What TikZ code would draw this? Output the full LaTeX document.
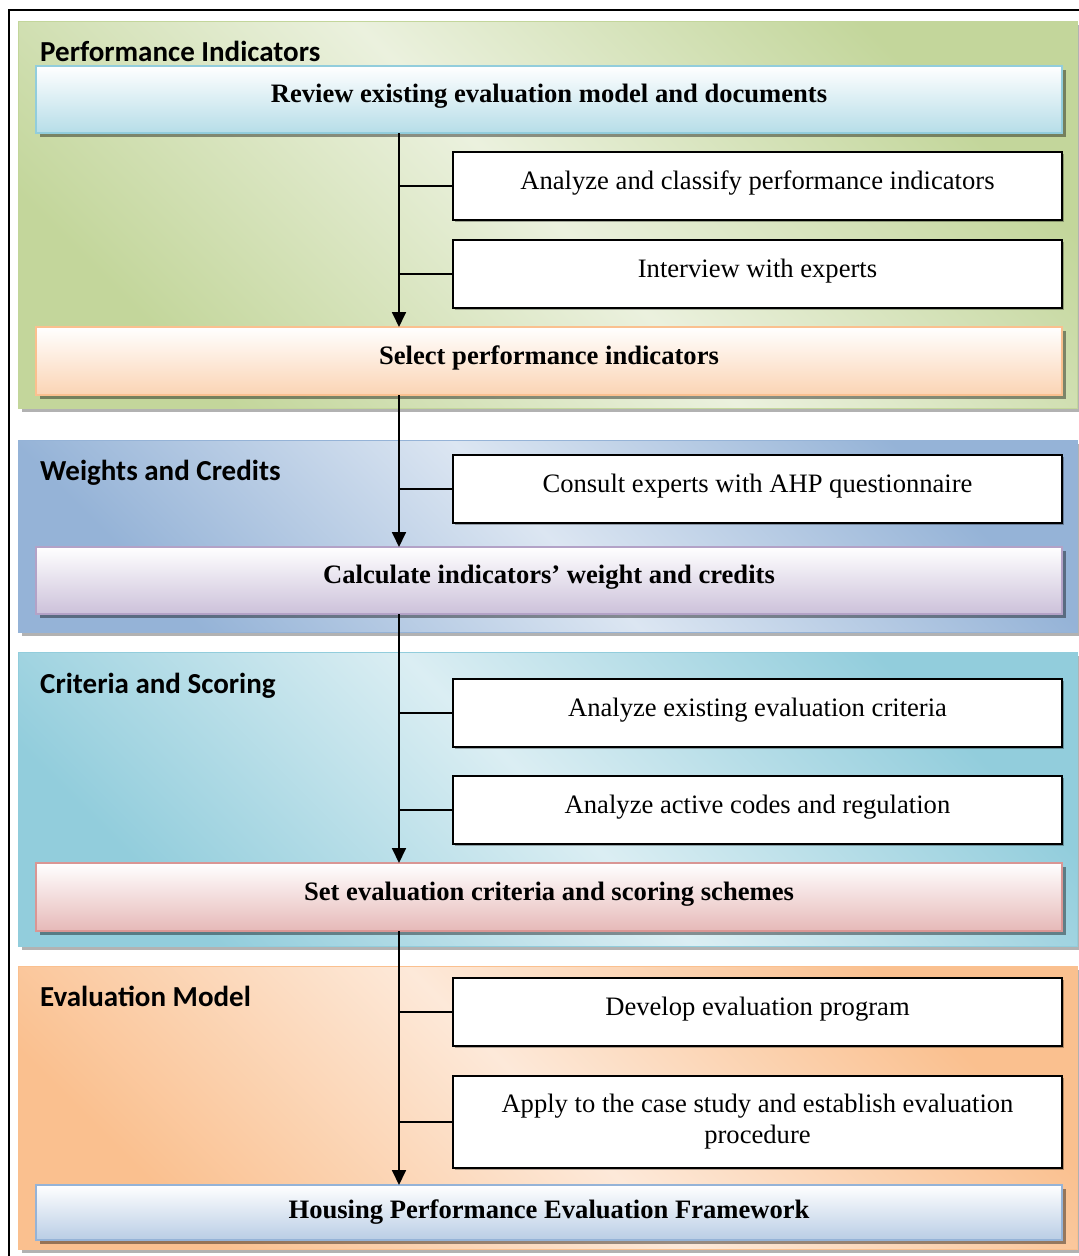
\documentclass[tikz,border=0pt]{standalone}
\usepackage{fontspec}
\setmainfont{Liberation Serif}
\newfontfamily\hdrfont{Carlito}
\usepackage{xcolor}
\usetikzlibrary{arrows.meta, positioning, shadows}

\definecolor{pgreen}{HTML}{C3D69B}
\definecolor{pgreenl}{HTML}{EBF1DE}
\definecolor{pblue}{HTML}{95B3D7}
\definecolor{pbluel}{HTML}{DCE6F2}
\definecolor{pcyan}{HTML}{92CDDC}
\definecolor{pcyanl}{HTML}{DBEEF3}
\definecolor{porange}{HTML}{FAC08F}
\definecolor{porangel}{HTML}{FDE9D9}
\definecolor{revline}{HTML}{92CDDC}
\definecolor{revfill}{HTML}{B6DDE8}
\definecolor{selline}{HTML}{FAC08F}
\definecolor{selfill}{HTML}{FBD4B4}
\definecolor{calcline}{HTML}{B3A2C7}
\definecolor{calcfill}{HTML}{CCC1DA}
\definecolor{schline}{HTML}{D99694}
\definecolor{schfill}{HTML}{E6B9B8}
\definecolor{frmline}{HTML}{95B3D7}
\definecolor{frmfill}{HTML}{B9CDE5}

\tikzset{
  %% Phase panel behind each group of steps
  panel/.style 2 args={
    rectangle, anchor=north west, draw=#1, line width=0.8pt,
    top color=#1, bottom color=#1, middle color=#2, shading angle=-45,
    minimum width=1059pt, inner sep=0pt, outer sep=0pt,
    drop shadow={shadow xshift=4pt, shadow yshift=-4pt,
                 fill=black, opacity=0.3}
  },
  %% Panel heading
  hdr/.style={
    anchor=base west, inner sep=0pt,
    font=\hdrfont\bfseries\fontsize{29}{34}\selectfont
  },
  %% Main step (full width, shaded)
  mbox/.style 2 args={
    rectangle, draw=#1, line width=1.6pt,
    top color=white, bottom color=#2,
    minimum width=1026pt, minimum height=67pt,
    inner sep=0pt, outer sep=0pt,
    text height=18pt, text depth=12pt,
    font=\bfseries\fontsize{26.6}{31}\selectfont,
    drop shadow={shadow xshift=4pt, shadow yshift=-4pt,
                 fill=black, opacity=0.4}
  },
  %% Side task box
  sbox/.style={
    rectangle, draw=black, line width=1.4pt, fill=white,
    minimum width=609pt, minimum height=68pt,
    inner sep=0pt, outer sep=0pt,
    text height=18pt, text depth=12pt,
    font=\fontsize{26.6}{31}\selectfont,
    drop shadow={shadow xshift=1.5pt, shadow yshift=-1.5pt,
                 fill=black, opacity=0.3}
  },
  %% Arrow
  arr/.style={-{Triangle[length=15pt,width=14pt]}, draw=black, line width=1.8pt},
  brn/.style={draw=black, line width=1.3pt},
}

\begin{document}
\begin{tikzpicture}[x=1pt, y=-1pt]

  \useasboundingbox (0,0) rectangle (1079,1256);

  \node[panel={pgreen}{pgreenl}, minimum height=387pt] (pind) at (18,21) {};
  \node[panel={pblue}{pbluel}, minimum height=192pt] (pwgt) at (18,440) {};
  \node[panel={pcyan}{pcyanl}, minimum height=294pt] (pcrit) at (18,652) {};
  \node[panel={porange}{porangel}, minimum height=283pt] (pmod) at (18,966) {};

  \node[hdr] (hind) at ([xshift=22pt, yshift=-40pt]pind.north west)
       {Performance Indicators};
  \node[hdr] (hwgt) at ([xshift=22pt, yshift=-40pt]pwgt.north west)
       {Weights and Credits};
  \node[hdr] (hcrit) at ([xshift=22pt, yshift=-41pt]pcrit.north west)
       {Criteria and Scoring};
  \node[hdr] (hmod) at ([xshift=22pt, yshift=-40pt]pmod.north west)
       {Evaluation Model};

  \node[mbox={revline}{revfill}] (review) at (549,99.5)
       {Review existing evaluation model and documents};
  \node[sbox, below left=19pt and 0pt of review.south east] (s1)
       {Analyze and classify performance indicators};
  \node[sbox, below=20pt of s1] (s2)
       {Interview with experts};
  \node[mbox={selline}{selfill}, minimum height=68pt] (select) at (549,361)
       {Select performance indicators};

  \node[sbox, below left=15pt and 15pt of pwgt.north east] (s3)
       {Consult experts with AHP questionnaire};
  \node[mbox={calcline}{calcfill}] (calc) at (549,580.5)
       {Calculate indicators' weight and credits};

  \node[sbox, below left=27pt and 15pt of pcrit.north east] (s4)
       {Analyze existing evaluation criteria};
  \node[sbox, below=29pt of s4] (s5)
       {Analyze active codes and regulation};
  \node[mbox={schline}{schfill}, minimum height=68pt] (scheme) at (549,897)
       {Set evaluation criteria and scoring schemes};

  \node[sbox, below left=12pt and 15pt of pmod.north east] (s6)
       {Develop evaluation program};
  \node[sbox, below=30pt of s6, minimum height=92pt,
        align=center, text height={}, text depth={}] (s7)
       {Apply to the case study and establish evaluation\\procedure};
  \node[mbox={frmline}{frmfill}, minimum height=55pt, text depth=6pt]
       (frame) at (549,1212.5)
       {Housing Performance Evaluation Framework};

  \draw[line width=1.5pt] (9,1290) -- (9,10) -- (1100,10);

  \foreach \a/\b in {review/select, select/calc, calc/scheme, scheme/frame}
    \draw[arr] ([xshift=-150pt]\a.south) -- ([xshift=-150pt]\b.north);

  \foreach \a/\s in {review/s1, review/s2, select/s3, calc/s4, calc/s5,
                     scheme/s6, scheme/s7}
    \draw[brn] ([xshift=-150pt]\a.south |- \s.west) -- (\s.west);

\end{tikzpicture}
\end{document}
